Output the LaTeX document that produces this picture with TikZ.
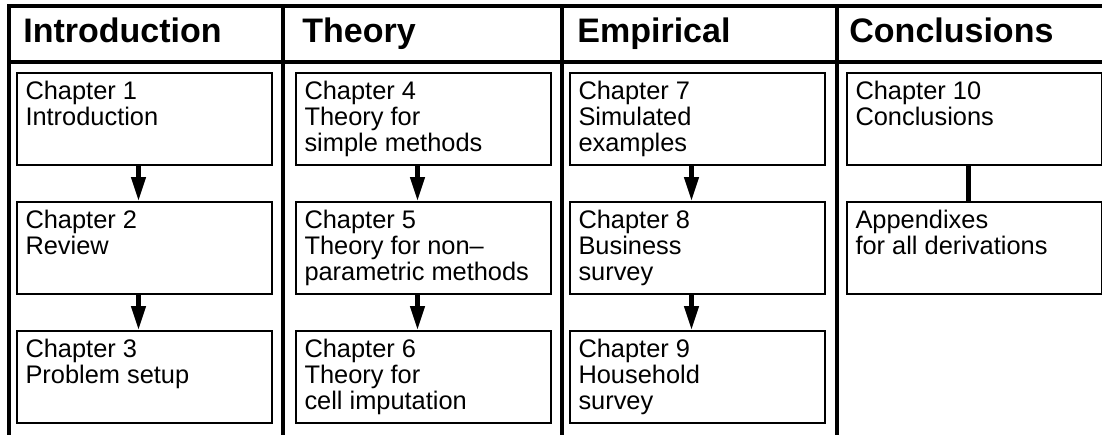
\documentclass[tikz,border=0pt]{standalone}
\usepackage{fontspec}
\setmainfont{Liberation Sans}
\usetikzlibrary{arrows.meta,positioning}

\newcommand{\boxtext}[1]{\parbox[t][38pt][t]{119pt}{\raggedright #1}}

\begin{document}
\begin{tikzpicture}[>={Triangle[length=12pt,width=7pt]}, node distance=17.5pt,
  chap/.style={draw, line width=1pt, minimum width=127.5pt, minimum height=46pt, inner xsep=4pt, inner ysep=4pt, anchor=north west, font=\fontsize{12.7}{13}\selectfont},
  head/.style={anchor=base west, inner sep=0pt, font=\fontsize{17}{20}\selectfont\bfseries},
  frame/.style={line width=2pt, line cap=rect},
  flow/.style={line width=2.2pt, ->}]
\useasboundingbox (0,0) rectangle (551pt,-217pt);

% lanes
\draw[frame] (4.5pt,-3pt) -- (551pt,-3pt);
\draw[frame] (4.5pt,-30.75pt) -- (551pt,-30.75pt);
\foreach \x in {4.5,141.5,281,418.5}
  \draw[frame] (\x pt,-3pt) -- (\x pt,-217pt);

\node[head] (intro) at (11.5pt,-21pt) {Introduction};
\node[head] (theory) at (151pt,-21pt) {Theory};
\node[head] (empir) at (288.5pt,-21pt) {Empirical};
\node[head] (concl) at (424.5pt,-21pt) {Conclusions};

% chapters
\node[chap] (c1) at (8pt,-36pt) {\boxtext{Chapter 1\\Introduction}};
\node[chap, below=of c1] (c2) {\boxtext{Chapter 2\\Review}};
\node[chap, below=of c2] (c3) {\boxtext{Chapter 3\\Problem setup}};

\node[chap] (c4) at (147.5pt,-36pt) {\boxtext{Chapter 4\\Theory for\\simple methods}};
\node[chap, below=of c4] (c5) {\boxtext{Chapter 5\\Theory for non–\\parametric methods}};
\node[chap, below=of c5] (c6) {\boxtext{Chapter 6\\Theory for\\cell imputation}};

\node[chap] (c7) at (284.5pt,-36pt) {\boxtext{Chapter 7\\Simulated\\examples}};
\node[chap, below=of c7] (c8) {\boxtext{Chapter 8\\Business\\survey}};
\node[chap, below=of c8] (c9) {\boxtext{Chapter 9\\Household\\survey}};

\node[chap] (c10) at (423pt,-36pt) {\boxtext{Chapter 10\\Conclusions}};
\node[chap, below=of c10] (app) {\boxtext{Appendixes\\for all derivations}};

% links
\draw[flow] ([xshift=-3pt]c1.south) -- ([xshift=-3pt]c2.north);
\draw[flow] ([xshift=-3pt]c2.south) -- ([xshift=-3pt]c3.north);
\draw[flow] ([xshift=-3pt]c4.south) -- ([xshift=-3pt]c5.north);
\draw[flow] ([xshift=-3pt]c5.south) -- ([xshift=-3pt]c6.north);
\draw[flow] ([xshift=-3pt]c7.south) -- ([xshift=-3pt]c8.north);
\draw[flow] ([xshift=-3pt]c8.south) -- ([xshift=-3pt]c9.north);
\draw[line width=2.2pt] ([xshift=-3pt]c10.south) -- ([xshift=-3pt]app.north);
\end{tikzpicture}
\end{document}
